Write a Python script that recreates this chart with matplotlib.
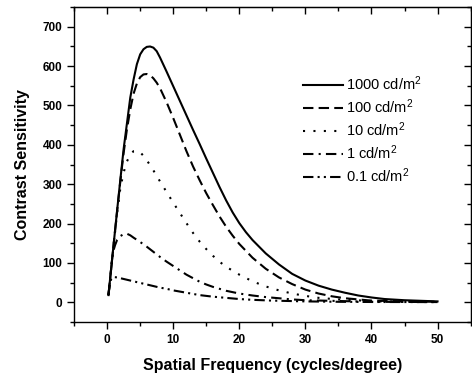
from matplotlib import pyplot as plt
from matplotlib.ticker import MultipleLocator

plt.rcParams['font.family'] = ['Liberation Sans', 'DejaVu Sans']
plt.rcParams['mathtext.fontset'] = 'custom'
plt.rcParams['mathtext.rm'] = 'Liberation Sans'
plt.rcParams['mathtext.it'] = 'Liberation Sans'

# spatial frequency (cycles/degree) and contrast sensitivity
x_1000 = [0.2, 0.5, 1, 1.5, 2, 2.5, 3, 3.5, 4, 4.5, 5, 5.5, 6, 6.5, 7, 7.5, 8, 9, 10,
          11, 12, 13, 14, 15, 16, 17, 18, 19, 20, 21, 22, 24, 26, 28, 30, 32, 34, 36,
          38, 40, 42, 45, 50]
y_1000 = [18, 68, 150, 232, 312, 390, 455, 520, 566, 605, 630, 643, 649, 650, 647, 638,
          622, 586, 549, 512, 475, 438, 402, 365, 329, 293, 259, 228, 201, 178, 158, 124,
          96, 72, 55, 42, 32, 24, 17, 12, 8, 5, 2]

x_100 = [0.2, 0.5, 1, 1.5, 2, 2.5, 3, 3.5, 4, 4.5, 5, 5.5, 6, 6.5, 7, 7.5, 8, 9, 10,
         11, 12, 13, 14, 15, 16, 17, 18, 19, 20, 22, 24, 26, 28, 30, 32, 34, 36, 38, 40,
         45, 50]
y_100 = [18, 68, 150, 230, 308, 380, 440, 490, 530, 556, 572, 579, 580, 577, 569, 558,
         544, 508, 468, 426, 384, 345, 310, 277, 247, 218, 192, 169, 148, 113, 85, 63, 46,
         32, 22, 15, 10, 7, 4, 2, 1]

x_10 = [0.2, 0.5, 1, 1.5, 2, 2.5, 3, 3.5, 4, 4.5, 5, 5.5, 6, 7, 8, 9, 10, 11, 12, 13,
        14, 15, 16, 17, 18, 20, 22, 24, 26, 28, 30, 32, 35, 40, 45, 50]
y_10 = [18, 68, 148, 225, 290, 330, 358, 375, 384, 385, 381, 372, 361, 335, 307, 280,
        253, 227, 201, 176, 154, 135, 118, 103, 90, 70, 53, 40, 30, 22, 16, 11, 7, 3, 1,
        0.5]

x_1 = [0.2, 0.5, 0.9, 1.2, 1.5, 2, 2.5, 3, 3.5, 4, 5, 6, 7, 8, 9, 10, 11, 12, 13, 14,
       15, 16, 17, 18, 20, 22, 24, 26, 28, 30, 35, 40, 50]
y_1 = [18, 68, 128, 145, 158, 168, 173, 174, 170, 164, 153, 141, 128, 115, 103, 92, 81,
       70, 61, 52, 45, 39, 34, 29, 22, 17, 13, 10, 7, 5, 3, 1, 0.3]

x_01 = [0.2, 0.4, 0.6, 0.9, 1.5, 2, 3, 4, 5, 6, 7, 8, 9, 10, 12, 14, 16, 18, 20, 22,
        25, 30, 35, 40, 50]
y_01 = [18, 45, 58, 64, 63, 61, 57, 53, 49, 45, 41, 37, 34, 30, 24, 18, 14, 11, 8, 6,
        4, 2, 1, 0.5, 0.2]

labels = ['1000 cd/m$^2$', '100 cd/m$^2$', '10 cd/m$^2$', '1 cd/m$^2$', '0.1 cd/m$^2$']
xticks = [0, 10, 20, 30, 40, 50]
yticks = [0, 100, 200, 300, 400, 500, 600, 700]

fig = plt.figure(figsize=(4.72, 3.76), dpi=100)
ax = fig.add_axes([0.157, 0.144, 0.84, 0.837])

lw = 1.5
ax.plot(x_1000, y_1000, color='black', lw=lw, ls='-', label=labels[0])
ax.plot(x_100, y_100, color='black', lw=lw, ls=(0, (5, 2.5)), label=labels[1])
ax.plot(x_10, y_10, color='black', lw=lw, ls=(0, (1, 4)), label=labels[2])
ax.plot(x_1, y_1, color='black', lw=lw, ls=(0, (5, 2.5, 1, 2.5)), label=labels[3])
ax.plot(x_01, y_01, color='black', lw=lw, ls=(0, (5, 2, 1, 2, 1, 2)), label=labels[4])

ax.set_xlim(-5, 55)
ax.set_ylim(-50, 750)
ax.set_xticks(xticks)
ax.set_yticks(yticks)
ax.xaxis.set_minor_locator(MultipleLocator(5))
ax.yaxis.set_minor_locator(MultipleLocator(50))

ax.tick_params(which='both', direction='out', width=1, top=False, right=False)
ax.tick_params(which='major', length=5, labelsize=8.5)
ax.tick_params(which='minor', length=3)
for lab in ax.get_xticklabels() + ax.get_yticklabels():
    lab.set_fontweight('bold')

# inward ticks on the top and right sides
ax2 = ax.secondary_xaxis('top')
ax2.set_xticks(xticks)
ax2.xaxis.set_minor_locator(MultipleLocator(5))
ax2.tick_params(which='both', direction='in', width=1, labeltop=False)
ax2.tick_params(which='major', length=5)
ax2.tick_params(which='minor', length=3)
ay2 = ax.secondary_yaxis('right')
ay2.set_yticks(yticks)
ay2.yaxis.set_minor_locator(MultipleLocator(50))
ay2.tick_params(which='both', direction='in', width=1, labelright=False)
ay2.tick_params(which='major', length=5)
ay2.tick_params(which='minor', length=3)

for s in ax.spines.values():
    s.set_linewidth(1)

ax.set_xlabel('Spatial Frequency (cycles/degree)', fontsize=11.5, fontweight='bold', labelpad=9)
ax.set_ylabel('Contrast Sensitivity', fontsize=11.5, fontweight='bold', labelpad=9)

leg = ax.legend(loc='upper left', bbox_to_anchor=(0.578, 0.785), frameon=False, fontsize=10.5,
                handlelength=2.75, handletextpad=0.2, labelspacing=0.3, borderpad=0,
                borderaxespad=0)

fig.savefig('out.png', dpi=100)
